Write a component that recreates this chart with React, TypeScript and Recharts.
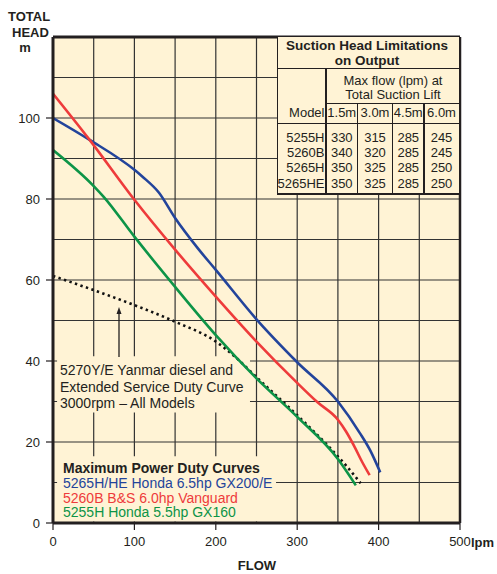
import { LineChart, Line, XAxis, YAxis, CartesianGrid, ReferenceLine, ReferenceArea } from "recharts";

// axis ticks and grid
const FLOW_TICKS = [0, 100, 200, 300, 400, 500];
const HEAD_TICKS = [0, 20, 40, 60, 80, 100];
const FLOW_GRID = [50, 100, 150, 200, 250, 300, 350, 400, 450];
const HEAD_GRID = [10, 20, 30, 40, 50, 60, 70, 80, 90, 100, 110];

// 5265H/HE Honda 6.5hp GX200/E
const HONDA65_FLOW = [0, 45, 100, 110, 130, 150, 178, 200, 250, 300, 350, 377, 390, 402];
const HONDA65_HEAD = [100, 94.6, 87.2, 85.5, 81.6, 75.3, 67.8, 62.5, 50.3, 39.7, 30, 22.2, 17.8, 12.5];

// 5260B B&S 6.0hp Vanguard
const VANGUARD_FLOW = [0, 45, 100, 150, 200, 250, 300, 325, 350, 360, 370, 380, 389];
const VANGUARD_HEAD = [106, 94.6, 79.8, 67.5, 55.9, 44.8, 34.6, 29.8, 25.5, 22.6, 19, 15, 11.8];

// 5255H Honda 5.5hp GX160
const HONDA55_FLOW = [0, 50, 62, 100, 150, 200, 250, 300, 350, 372];
const HONDA55_HEAD = [92.1, 83.2, 80.6, 70.7, 58.3, 46.4, 35.7, 26.2, 15.8, 9.3];

// 5270Y/E Yanmar diesel / extended service duty
const YANMAR_FLOW = [0, 50, 100, 150, 200, 225, 250, 300, 340, 360, 378];
const YANMAR_HEAD = [61, 57.5, 53.8, 49.7, 44.8, 40.8, 36, 26.6, 18.6, 14.2, 9.8];

// suction head table
const TABLE_MODELS = ["5255H", "5260B", "5265H", "5265HE"];
const TABLE_LIFTS = ["1.5m", "3.0m", "4.5m", "6.0m"];
const TABLE_FLOWS = [
  [330, 315, 285, 245],
  [340, 320, 285, 245],
  [350, 325, 285, 250],
  [350, 325, 285, 250],
];

const NOTE_LINES = ["5270Y/E Yanmar diesel and", "Extended Service Duty Curve", "3000rpm \u2013 All Models"];
const LEGEND_TITLE = "Maximum Power Duty Curves";

const INK = "#231f20";
const CREAM = "#fff3d5";
const GRID = "#333333";
const BLUE = "#23449b";
const RED = "#ee3b3b";
const GREEN = "#0d9447";
const FONT = '"Liberation Sans", Arial, Helvetica, sans-serif';

const SERIES = [
  { key: "honda65", label: "5265H/HE Honda 6.5hp GX200/E", flow: HONDA65_FLOW, head: HONDA65_HEAD, color: BLUE },
  { key: "vanguard", label: "5260B B&S 6.0hp Vanguard", flow: VANGUARD_FLOW, head: VANGUARD_HEAD, color: RED },
  { key: "honda55", label: "5255H Honda 5.5hp GX160", flow: HONDA55_FLOW, head: HONDA55_HEAD, color: GREEN },
];

const toPoints = (flow: number[], head: number[]) => flow.map((q, i) => ({ q, h: head[i] }));

function T({
  x,
  y,
  children,
  align = "left",
  size = 13,
  bold = false,
  color = INK,
}: {
  x: number;
  y: number;
  children: React.ReactNode;
  align?: "left" | "center" | "right";
  size?: number;
  bold?: boolean;
  color?: string;
}) {
  const tx = align === "center" ? "-50%" : align === "right" ? "-100%" : "0";
  return (
    <div
      style={{
        position: "absolute",
        left: x,
        top: y,
        transform: `translate(${tx},-50%)`,
        fontSize: size,
        fontWeight: bold ? 700 : 400,
        color,
        whiteSpace: "nowrap",
        lineHeight: 1,
      }}
    >
      {children}
    </div>
  );
}

function Rule({ x, y, w, h }: { x: number; y: number; w: number; h: number }) {
  return <div style={{ position: "absolute", left: x, top: y, width: w, height: h, background: INK }} />;
}

function SuctionTable() {
  const left = 277;
  const top = 37;
  const right = 459;
  const bottom = 193.5;
  const cols = [326, 357.5, 392.5, 424, right];
  const rowY = [136.5, 151.5, 167, 182.5];
  return (
    <>
      <div style={{ position: "absolute", left, top, width: right - left, height: bottom - top, background: CREAM }} />
      <Rule x={left - 0.5} y={top} w={1.6} h={bottom - top} />
      <Rule x={left} y={bottom - 1} w={right - left} h={2.2} />
      <Rule x={left} y={67.5} w={right - left} h={1.8} />
      <Rule x={cols[0] - 0.8} y={67.5} w={1.6} h={bottom - 67.5} />
      <Rule x={cols[0]} y={102.6} w={right - cols[0]} h={1.5} />
      <Rule x={left} y={122.5} w={right - left} h={1.8} />
      {cols.slice(1, 4).map((cx) => (
        <Rule key={cx} x={cx - 0.8} y={102.6} w={1.6} h={bottom - 102.6} />
      ))}
      <T x={367} y={46} align="center" bold size={13.5}>Suction Head Limitations</T>
      <T x={367} y={60.5} align="center" bold size={13.5}>on Output</T>
      <T x={393} y={79.5} align="center">Max flow (lpm) at</T>
      <T x={393} y={94} align="center">Total Suction Lift</T>
      <T x={324.5} y={112} align="right">Model</T>
      {TABLE_LIFTS.map((lift, i) => (
        <T key={lift} x={(cols[i] + cols[i + 1]) / 2} y={112} align="center">{lift}</T>
      ))}
      {TABLE_MODELS.map((model, r) => (
        <div key={model}>
          <T x={324.5} y={rowY[r]} align="right">{model}</T>
          {TABLE_FLOWS[r].map((v, c) => (
            <T key={c} x={(cols[c] + cols[c + 1]) / 2} y={rowY[r]} align="center">{v}</T>
          ))}
        </div>
      ))}
    </>
  );
}

export default function App() {
  return (
    <div
      style={{
        position: "absolute",
        left: 0,
        top: 0,
        width: 497,
        height: 574,
        background: "#fff",
        fontFamily: FONT,
        color: INK,
      }}
    >
      <LineChart width={497} height={574} margin={{ top: 37, right: 37, bottom: 21, left: 0 }}>
        <CartesianGrid fill={CREAM} fillOpacity={1} horizontal={false} vertical={false} />
        <XAxis
          type="number"
          dataKey="q"
          domain={[0, 500]}
          ticks={FLOW_TICKS}
          height={30}
          tickSize={7}
          tickMargin={7}
          tick={{ fontSize: 13, fill: INK, fontFamily: FONT }}
          axisLine={{ stroke: INK, strokeWidth: 3 }}
          tickLine={{ stroke: INK, strokeWidth: 1.2 }}
          allowDataOverflow
        />
        <YAxis
          type="number"
          dataKey="h"
          domain={[0, 120]}
          ticks={HEAD_TICKS}
          width={53}
          tickSize={7}
          tickMargin={6}
          tick={{ fontSize: 13, fill: INK, fontFamily: FONT }}
          axisLine={{ stroke: INK, strokeWidth: 3 }}
          tickLine={{ stroke: INK, strokeWidth: 1.2 }}
          allowDataOverflow
        />
        {HEAD_GRID.map((v) => (
          <ReferenceLine key={`h${v}`} y={v} stroke={GRID} strokeWidth={1.2} zIndex={-50} />
        ))}
        {FLOW_GRID.map((v) => (
          <ReferenceLine key={`q${v}`} x={v} stroke={GRID} strokeWidth={1.2} zIndex={-50} />
        ))}
        {/* boxes behind the note and legend text hide the grid */}
        <ReferenceArea x1={5} x2={242} y1={27.3} y2={41.2} fill={CREAM} fillOpacity={1} stroke="none" zIndex={50} />
        <ReferenceArea x1={5} x2={274} y1={0.4} y2={16.5} fill={CREAM} fillOpacity={1} stroke="none" zIndex={50} />
        <ReferenceLine y={120} stroke={INK} strokeWidth={3} zIndex={450} />
        <ReferenceLine x={500} stroke={INK} strokeWidth={2.5} zIndex={450} />
        <Line
          data={toPoints(YANMAR_FLOW, YANMAR_HEAD)}
          dataKey="h"
          type="monotone"
          stroke="#111"
          strokeWidth={2.6}
          strokeDasharray="2.4 3.4"
          dot={false}
          activeDot={false}
          isAnimationActive={false}
        />
        {SERIES.map((s) => (
          <Line
            key={s.key}
            data={toPoints(s.flow, s.head)}
            dataKey="h"
            name={s.label}
            type="monotone"
            stroke={s.color}
            strokeWidth={2.6}
            dot={false}
            activeDot={false}
            isAnimationActive={false}
          />
        ))}
      </LineChart>

      <SuctionTable />

      <T x={8} y={15.5} bold>TOTAL</T>
      <T x={12} y={32} bold>HEAD</T>
      <T x={25} y={47} align="center" bold>m</T>
      <T x={471} y={541.5} bold>lpm</T>
      <T x={257} y={565} align="center" bold>FLOW</T>

      {NOTE_LINES.map((line, i) => (
        <T key={line} x={60} y={370 + i * 16.6} size={14}>{line}</T>
      ))}
      <svg style={{ position: "absolute", left: 110, top: 300, overflow: "visible" }} width={20} height={60}>
        <line x1={9} y1={12} x2={9} y2={57} stroke={INK} strokeWidth={1.3} />
        <polygon points="9,7 6.5,14 11.5,14" fill={INK} />
      </svg>

      <T x={63} y={468} size={14} bold>{LEGEND_TITLE}</T>
      {SERIES.map((s, i) => (
        <T key={s.key} x={63} y={483 + i * 14.6} size={14} color={s.color}>{s.label}</T>
      ))}
    </div>
  );
}
